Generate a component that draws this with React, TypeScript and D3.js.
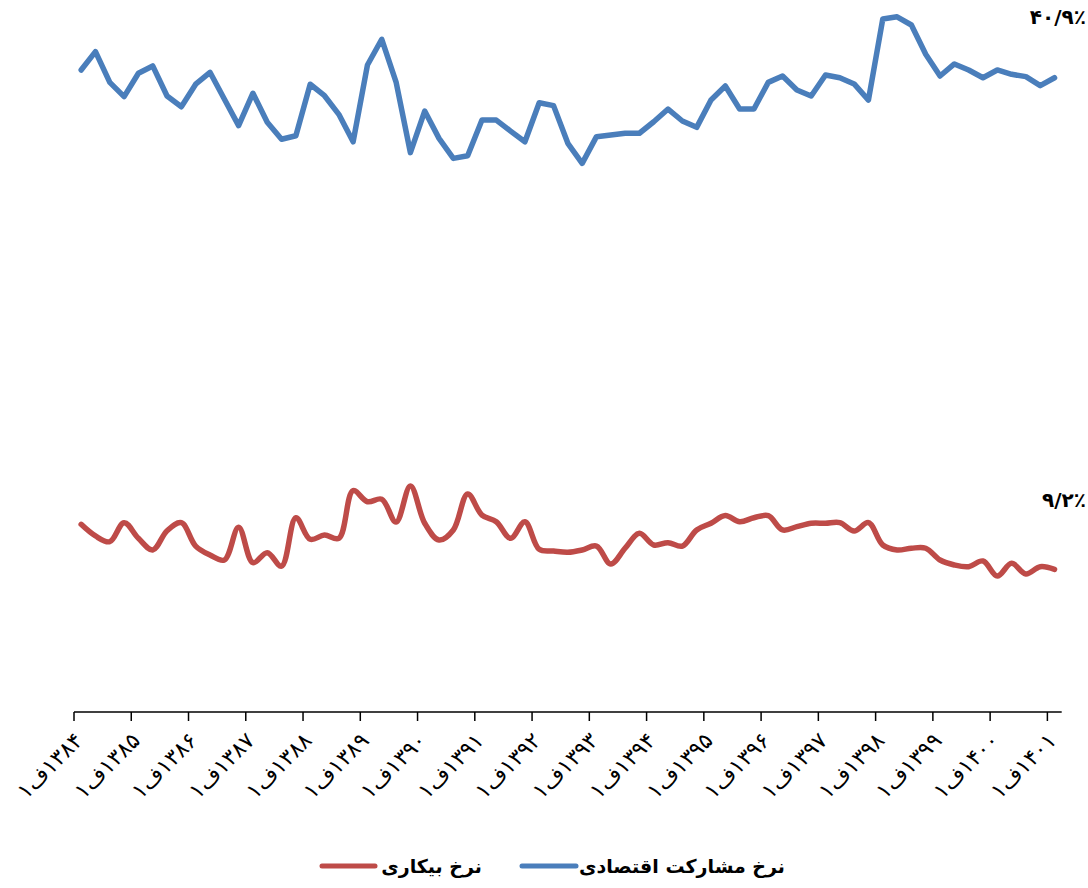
import * as d3 from 'd3';

// سال‌ها (برچسب محور، هر سال چهار فصل)
const years = ['۱۳۸۴', '۱۳۸۵', '۱۳۸۶', '۱۳۸۷', '۱۳۸۸', '۱۳۸۹', '۱۳۹۰', '۱۳۹۱', '۱۳۹۲',
  '۱۳۹۳', '۱۳۹۴', '۱۳۹۵', '۱۳۹۶', '۱۳۹۷', '۱۳۹۸', '۱۳۹۹', '۱۴۰۰', '۱۴۰۱'];

// نرخ مشارکت اقتصادی (٪) — 1384 Q1 .. 1401 Q1
const participation = [
  41.4, 42.58, 40.6, 39.68, 41.19, 41.66, 39.72, 39.03, 40.48, 41.25,
  39.53, 37.81, 39.9, 38.03, 36.93, 37.16, 40.48, 39.74, 38.54, 36.77,
  41.72, 43.38, 40.62, 36.07, 38.75, 36.99, 35.7, 35.87, 38.17, 38.17,
  37.46, 36.77, 39.29, 39.1, 36.67, 35.38, 37.1, 37.21, 37.32, 37.32,
  38.06, 38.88, 38.11, 37.7, 39.46, 40.37, 38.88, 38.88, 40.6, 41.01,
  40.11, 39.72, 41.08, 40.9, 40.5, 39.46, 44.69, 44.83, 44.3, 42.41,
  41.01, 41.79, 41.4, 40.9, 41.4, 41.12, 40.97, 40.39, 40.9,
];

// نرخ بیکاری (٪)
const unemployment = [
  12.1, 11.35, 10.98, 12.21, 11.2, 10.45, 11.69, 12.21, 10.7, 10.12,
  9.8, 11.91, 9.63, 10.27, 9.41, 12.53, 11.14, 11.41, 11.2, 14.27,
  13.56, 13.72, 12.25, 14.57, 12.17, 11.09, 11.74, 14.06, 12.7, 12.27,
  11.2, 12.27, 10.49, 10.38, 10.3, 10.45, 10.7, 9.54, 10.56, 11.52,
  10.77, 10.92, 10.7, 11.74, 12.17, 12.67, 12.27, 12.53, 12.66, 11.74,
  11.95, 12.17, 12.17, 12.21, 11.67, 12.21, 10.77, 10.45, 10.56, 10.56,
  9.8, 9.48, 9.37, 9.74, 8.77, 9.59, 8.9, 9.37, 9.2,
];

const lastParticipationLabel = '۴۰/۹٪';
const lastUnemploymentLabel = '۹/۲٪';

const legendParticipation = 'نرخ مشارکت اقتصادی';
const legendUnemployment = 'نرخ بیکاری';

const BLUE = '#4a7ebb';
const RED = '#be4b48';
const FONT = '"DejaVu Sans", sans-serif';

const W = 1088;
const H = 888;

export default function App() {
  const n = participation.length;
  const idx = d3.range(n);

  const x = d3.scaleBand<number>().domain(idx).range([74, 1061.7]).padding(0);
  const bw = x.bandwidth();
  const cx = (i: number) => (x(i) ?? 0) + bw / 2;

  const y = d3.scaleLinear().domain([0, 45]).range([712, 712 - 45 * 15.508]);

  const blueLine = d3.line<number>().x((_, i) => cx(i)).y(d => y(d));
  const redLine = d3.line<number>().x((_, i) => cx(i)).y(d => y(d)).curve(d3.curveCatmullRom.alpha(0.5));

  const tickIdx = idx.filter(i => i % 4 === 0);

  return (
    <svg width={W} height={H} style={{ position: 'absolute', left: 0, top: 0, background: '#fff' }}>
      <path d={blueLine(participation) ?? ''} fill="none" stroke={BLUE} strokeWidth={5.5} strokeLinejoin="round" strokeLinecap="round" />
      <path d={redLine(unemployment) ?? ''} fill="none" stroke={RED} strokeWidth={5.5} strokeLinejoin="round" strokeLinecap="round" />

      {/* axis */}
      <line x1={74} x2={1061.7} y1={y(0)} y2={y(0)} stroke="#000" strokeWidth={1.5} />
      {tickIdx.map(i => (
        <line key={'t' + i} x1={x(i)} x2={x(i)} y1={y(0)} y2={y(0) + 9} stroke="#000" strokeWidth={1.5} />
      ))}
      {tickIdx.map((i, k) => (
        <text
          key={'l' + i}
          transform={`translate(${cx(i) + 3},${y(0) + 30}) rotate(-45)`}
          textAnchor="end"
          fontFamily={FONT}
          fontSize={22}
          fill="#000"
        >
          {'\u202D۱ف' + years[k] + '\u202C'}
        </text>
      ))}

      {/* end labels */}
      <text x={1086} y={y(participation[n - 1]) - 54} textAnchor="end" fontFamily={FONT} fontSize={20} fontWeight="bold" fill="#000">
        {lastParticipationLabel}
      </text>
      <text x={1086} y={y(unemployment[n - 1]) - 62} textAnchor="end" fontFamily={FONT} fontSize={20} fontWeight="bold" fill="#000">
        {lastUnemploymentLabel}
      </text>

      {/* legend */}
      <line x1={322} x2={375} y1={866} y2={866} stroke={RED} strokeWidth={5} strokeLinecap="round" />
      <text x={482} y={873} textAnchor="end" fontFamily={FONT} fontSize={19} fontWeight="bold" fill="#000">
        {legendUnemployment}
      </text>
      <line x1={522} x2={576} y1={866} y2={866} stroke={BLUE} strokeWidth={5} strokeLinecap="round" />
      <text x={785} y={873} textAnchor="end" fontFamily={FONT} fontSize={19} fontWeight="bold" fill="#000">
        {legendParticipation}
      </text>
    </svg>
  );
}
